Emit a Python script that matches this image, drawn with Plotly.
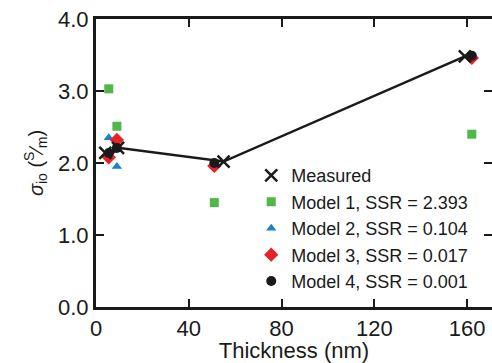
import plotly.graph_objects as go

# Data
meas_x = [4, 9.5, 55, 159]
meas_y = [2.14, 2.21, 2.02, 3.48]

model_x = [5.5, 9, 51, 162]
model1_y = [3.03, 2.51, 1.45, 2.40]
model2_y = [2.35, 1.95, 2.00, 3.48]
model3_y = [2.08, 2.32, 1.96, 3.46]
model4_y = [2.14, 2.21, 2.00, 3.49]

names = ["Model 1, SSR = 2.393", "Model 2, SSR = 0.104",
         "Model 3, SSR = 0.017", "Model 4, SSR = 0.001"]
x_ticks = [0, 40, 80, 120, 160]
y_ticks = [0, 1, 2, 3, 4]

FONT = "Liberation Sans, Arial, sans-serif"

fig = go.Figure()
fig.add_trace(go.Scatter(x=meas_x, y=meas_y, mode="lines",
                         line=dict(color="#1a1a1a", width=2.5),
                         showlegend=False, hoverinfo="skip"))
fig.add_trace(go.Scatter(x=model_x, y=model1_y, mode="markers", name=names[0],
                         legendrank=2,
                         marker=dict(symbol="square", size=9, color="#4fb848")))
fig.add_trace(go.Scatter(x=model_x, y=model2_y, mode="markers", name=names[1],
                         legendrank=3,
                         marker=dict(symbol="triangle-up", size=9, color="#1b80cc")))
fig.add_trace(go.Scatter(x=model_x, y=model3_y, mode="markers", name=names[2],
                         legendrank=4,
                         marker=dict(symbol="diamond", size=11, color="#ea2127")))
fig.add_trace(go.Scatter(x=model_x, y=model4_y, mode="markers", name=names[3],
                         legendrank=5,
                         marker=dict(symbol="circle", size=10, color="#1a1a1a")))
fig.add_trace(go.Scatter(x=meas_x, y=meas_y, mode="markers", name="Measured",
                         legendrank=1,
                         marker=dict(symbol="x-thin", size=12, color="#1a1a1a",
                                     line=dict(width=2.5, color="#1a1a1a"))))

axis_common = dict(showgrid=False, zeroline=False, showline=True, linewidth=3,
                   linecolor="#1a1a1a", mirror="ticks", ticks="inside",
                   ticklen=8, tickwidth=2, tickcolor="#1a1a1a",
                   tickfont=dict(family=FONT, size=22, color="#1a1a1a"))

fig.update_xaxes(range=[0, 170.7], tickvals=x_ticks,
                 title=dict(text="Thickness (nm)", standoff=3,
                            font=dict(family=FONT, size=22, color="#1a1a1a")),
                 **axis_common)
fig.update_yaxes(range=[0, 4.0], tickvals=y_ticks, tickformat=".1f",
                 title=dict(text="<i>σ</i><sub>io</sub> (<sup>S</sup>⁄<sub>m</sub>)", standoff=10,
                            font=dict(family=FONT, size=20, color="#1a1a1a")),
                 **axis_common)

fig.update_layout(
    width=495, height=363,
    margin=dict(l=96, r=0, t=19, b=56),
    plot_bgcolor="white", paper_bgcolor="white",
    legend=dict(x=0.392, y=0.52, xanchor="left", yanchor="top",
                font=dict(family=FONT, size=18, color="#1a1a1a"),
                bgcolor="rgba(0,0,0,0)", tracegroupgap=1),
)

fig.write_html("out.html", config={"displayModeBar": False},
               post_script="document.documentElement.style.overflow='hidden';document.body.style.margin='0';document.body.style.overflow='hidden';")
